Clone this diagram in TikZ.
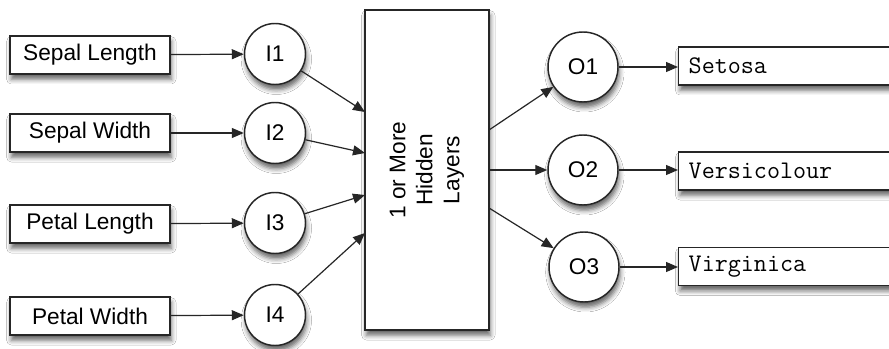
\documentclass[tikz,border=0pt]{standalone}
\usepackage{fontspec}
\setmainfont{Liberation Sans}
\usetikzlibrary{arrows.meta,shadows,shadows.blur}
\tikzset{
  shad/.style={blur shadow={shadow xshift=1pt, shadow yshift=-4pt, shadow blur radius=3.5pt, shadow opacity=60}},
  inbox/.style={rectangle, draw=black!85, line width=1.1pt, fill=white, minimum width=120pt, minimum height=28.5pt, inner sep=0pt, font=\fontsize{17}{20}\selectfont, shad},
  outbox/.style={rectangle, draw=black!85, line width=1.1pt, fill=white, minimum width=170pt, text width=155pt, inner xsep=7.5pt, inner ysep=0pt, minimum height=28.5pt, align=left, anchor=west, font=\ttfamily\fontsize{19}{22}\selectfont, shad},
  neuron/.style={circle, draw=black!85, line width=1.1pt, fill=white, minimum size=45.75pt, inner sep=0pt, font=\fontsize{17}{20}\selectfont, shad},
  oneuron/.style={neuron, minimum size=52.5pt},
  hidbox/.style={rectangle, draw=black!85, line width=1.1pt, fill=white, minimum width=93pt, minimum height=240pt, inner sep=0pt, font=\fontsize{17}{20.25}\selectfont, shad},
  conn/.style={-{Triangle[length=9pt,width=7.5pt]}, line width=0.9pt, draw=black!85}
}
\begin{document}
\begin{tikzpicture}[x=0.75pt,y=-0.75pt]
\useasboundingbox (0,0) rectangle (889,349);
\clip (0,0) rectangle (889,349);
\fill[white] (0,0) rectangle (889,349);
% inputs
\node[inbox] (sl) at (90,55) {Sepal Length};
\node[inbox] (sw) at (90,133) {Sepal Width};
\node[inbox] (pl) at (90,224) {Petal Length};
\node[inbox] (pw) at (90,316) {Petal Width};
\node[neuron] (i1) at (275,54) {I1};
\node[neuron] (i2) at (275,133) {I2};
\node[neuron] (i3) at (275,223) {I3};
\node[neuron] (i4) at (275,315) {I4};
% hidden
\node[hidbox] (hid) at (427,170) {\rotatebox{90}{\begin{tabular}{@{}c@{}}1 or More\\Hidden\\Layers\end{tabular}}};
\coordinate (h1) at (365,112);
\coordinate (h2) at (365,153);
\coordinate (h3) at (365,195);
\coordinate (h4) at (365,233);
\coordinate (g1) at (489,130);
\coordinate (g2) at (489,170);
\coordinate (g3) at (489,208);
% outputs
\node[oneuron] (o1) at (583,67) {O1};
\node[oneuron] (o2) at (583,170) {O2};
\node[oneuron] (o3) at (584,267) {O3};
\node[outbox] (set) at (678,66) {Setosa};
\node[outbox] (ver) at (678,171) {Versicolour};
\node[outbox] (vir) at (678,266.5) {Virginica};
% connectors
\draw[conn] (sl) -- (i1);
\draw[conn] (sw) -- (i2);
\draw[conn] (pl) -- (i3);
\draw[conn] (pw) -- (i4);
\draw[conn] (i1) -- (h1);
\draw[conn] (i2) -- (h2);
\draw[conn] (i3) -- (h3);
\draw[conn] (i4) -- (h4);
\draw[conn] (g1) -- (o1);
\draw[conn] (g2) -- (o2);
\draw[conn] (g3) -- (o3);
\draw[conn] (o1.east) -- (o1.east -| set.west);
\draw[conn] (o2.east) -- (o2.east -| ver.west);
\draw[conn] (o3.east) -- (o3.east -| vir.west);
\end{tikzpicture}
\end{document}
